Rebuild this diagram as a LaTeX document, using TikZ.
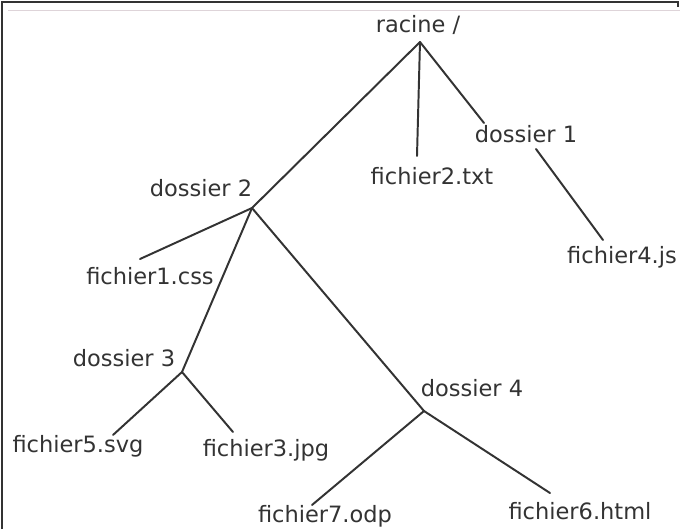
\documentclass[tikz,border=0pt]{standalone}
\usepackage{fontspec}
\setmainfont{DejaVu Sans}
\usetikzlibrary{calc,positioning}
\definecolor{gris}{rgb}{0.2,0.2,0.2}
\definecolor{rosepale}{rgb}{0.87,0.83,0.85}
\tikzset{
  fich/.style={text=gris, font=\fontsize{16}{19}\selectfont, inner sep=0pt, anchor=base},
  branche/.style={draw=gris, line width=1.4pt, line cap=round},
  cadre/.style={draw=gris, line width=1.8pt},
}

\begin{document}
\begin{tikzpicture}[x=0.025cm, y=-0.025cm]
   \useasboundingbox (0,0) rectangle (680,529);
   % cadre
   \draw[cadre] (2,529) -- (2,2) -- (678,2) -- (678,7);
   \draw[draw=rosepale, line width=0.6pt] (8,10) -- (680,10);

   % noms
   \node[fich] (racine) at (418,32) {racine /};
   \node[fich] (d1) at (526,142) {dossier 1};
   \node[fich] (f2) at (432,184) {fichier2.txt};
   \node[fich] (f4) at (622,263) {fichier4.js};
   \node[fich] (d2) at (201,196) {dossier 2};
   \node[fich] (f1) at (150,284) {fichier1.css};
   \node[fich] (d3) at (124,366) {dossier 3};
   \node[fich] (f5) at (78,452) {fichier5.svg};
   \node[fich] (f3) at (266,456) {fichier3.jpg};
   \node[fich] (d4) at (472,396) {dossier 4};
   \node[fich] (f6) at (580,519) {fichier6.html};
   \node[fich] (f7) at (325,522) {fichier7.odp};

   % points de branchement
   \coordinate (jr) at (420,42);
   \coordinate (j1) at (536,149);
   \coordinate (j2) at (252,208);
   \coordinate (j3) at (182,372);
   \coordinate (j4) at (424,411);
   \coordinate (bd1) at (484,123);
   \coordinate (bf2) at (417,156);
   \coordinate (bf4) at (603,240);
   \coordinate (bf1) at (140,259);
   \coordinate (bf5) at (113,435);
   \coordinate (bf3) at (233,432);
   \coordinate (bf6) at (550,493);
   \coordinate (bf7) at (312,505);

  \path[branche]
    (jr) edge (j2)
         edge (bf2)
         edge (bd1)
    (j1) edge (bf4)
    (j2) edge (bf1)
         edge (j3)
         edge (j4)
    (j3) edge (bf5)
         edge (bf3)
    (j4) edge (bf7)
         edge (bf6);
\end{tikzpicture}
\end{document}
